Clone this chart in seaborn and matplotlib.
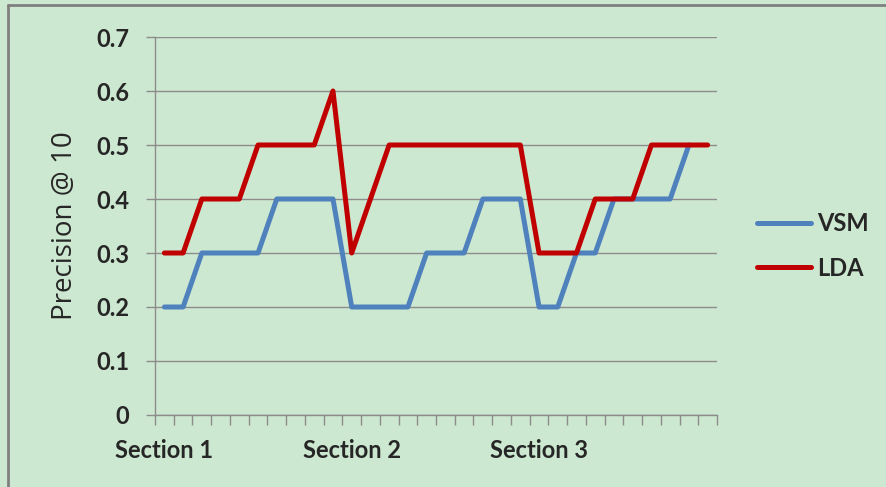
import numpy as np
import pandas as pd
import seaborn as sns
import matplotlib.pyplot as plt
from matplotlib.lines import Line2D

# Precision @ 10 per query, grouped in three sections
sections = ['Section 1', 'Section 2', 'Section 3']
vsm = [0.2, 0.2, 0.3, 0.3, 0.3, 0.3, 0.4, 0.4, 0.4, 0.4,
       0.2, 0.2, 0.2, 0.2, 0.3, 0.3, 0.3, 0.4, 0.4, 0.4,
       0.2, 0.2, 0.3, 0.3, 0.4, 0.4, 0.4, 0.4, 0.5, np.nan]
lda = [0.3, 0.3, 0.4, 0.4, 0.4, 0.5, 0.5, 0.5, 0.5, 0.6,
       0.3, 0.4, 0.5, 0.5, 0.5, 0.5, 0.5, 0.5, 0.5, 0.5,
       0.3, 0.3, 0.3, 0.4, 0.4, 0.4, 0.5, 0.5, 0.5, 0.5]
y_ticks = [0, 0.1, 0.2, 0.3, 0.4, 0.5, 0.6, 0.7]
y_labels = ['0', '0.1', '0.2', '0.3', '0.4', '0.5', '0.6', '0.7']

df = pd.DataFrame({'VSM': vsm, 'LDA': lda})

bg = '#cde8d0'
grey = '#8c8c8c'

sns.set_style('white')
plt.rcParams['font.family'] = ['Lato', 'DejaVu Sans']

fig = plt.figure(figsize=(8.86, 4.87), dpi=100, facecolor=bg)
ax = fig.add_axes([155 / 886, 1 - 415 / 487, (717 - 155) / 886, (415 - 37) / 487])
ax.set_facecolor(bg)

sns.lineplot(data=df, palette={'VSM': '#4f81bd', 'LDA': '#c00000'},
             dashes=False, linewidth=3.6, ax=ax, legend=False)
for ln in ax.lines:
    ln.set_solid_capstyle('round')

n = len(lda)
ax.set_xlim(-0.5, n - 0.5)
ax.set_ylim(0, 0.7)

# category boundaries carry the tick marks, labels every ten categories
ax.set_xticks(np.arange(-0.5, n, 1.0))
ax.set_xticklabels([])
ax.set_xticks(np.arange(0, n, 10), minor=True)
ax.set_xticklabels(sections, minor=True, fontsize=17, fontweight='bold')
ax.tick_params(axis='x', which='major', length=7, width=1, color=grey, direction='out', bottom=True)
ax.tick_params(axis='x', which='minor', length=0, pad=17)

ax.set_yticks(y_ticks)
ax.set_yticklabels(y_labels, fontsize=17, fontweight='bold')
ax.tick_params(axis='y', length=6.5, width=1, color=grey, direction='out', left=True, pad=12)
ax.yaxis.grid(True, color=grey, linewidth=1)
ax.xaxis.grid(False)

for side in ['top', 'right']:
    ax.spines[side].set_visible(False)
for side in ['left', 'bottom']:
    ax.spines[side].set_color(grey)
    ax.spines[side].set_linewidth(1)

ax.set_xlabel('')
ax.set_ylabel('Precision @ 10', fontsize=20, labelpad=12,
              family=['Open Sans', 'DejaVu Sans'])

handles = [Line2D([], [], color='#4f81bd', lw=3.6, solid_capstyle='round'),
           Line2D([], [], color='#c00000', lw=3.6, solid_capstyle='round')]
fig.legend(handles, ['VSM', 'LDA'], loc='center left', bbox_to_anchor=(757 / 886, 1 - 246 / 487),
           frameon=False, prop={'size': 17, 'weight': 'bold'}, handlelength=2.3,
           labelspacing=0.9, handletextpad=0.25, borderpad=0, borderaxespad=0)

# outer chart border (top and left visible in the crop)
fig.add_artist(Line2D([8 / 886, 8 / 886], [0, 1 - 5 / 487], transform=fig.transFigure,
                      color='#7f7f7f', lw=2))
fig.add_artist(Line2D([8 / 886, 1], [1 - 5 / 487, 1 - 5 / 487], transform=fig.transFigure,
                      color='#7f7f7f', lw=2))

fig.savefig('out.png', dpi=100, facecolor=bg)
